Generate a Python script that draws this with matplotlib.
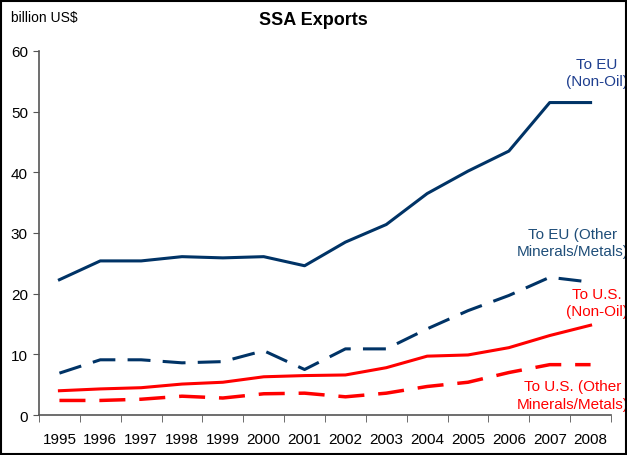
import numpy as np
import matplotlib.pyplot as plt
from matplotlib.patches import Rectangle

plt.rcParams['font.family'] = ['Liberation Sans', 'DejaVu Sans']

# data, billion US$
years = ['1995', '1996', '1997', '1998', '1999', '2000', '2001',
         '2002', '2003', '2004', '2005', '2006', '2007', '2008']
eu_non_oil = [22.3, 25.4, 25.4, 26.1, 25.9, 26.1, 24.6,
              28.5, 31.4, 36.5, 40.2, 43.5, 51.5, 51.5]
eu_minerals = [6.9, 9.1, 9.1, 8.6, 8.8, 10.6, 7.5,
               10.9, 10.9, 14.2, 17.2, 19.7, 22.7, 21.9]
us_non_oil = [4.0, 4.3, 4.5, 5.1, 5.4, 6.3, 6.5,
              6.6, 7.8, 9.7, 9.9, 11.1, 13.1, 14.8]
us_minerals = [2.4, 2.4, 2.6, 3.1, 2.8, 3.5, 3.6,
               3.0, 3.6, 4.7, 5.4, 7.0, 8.3, 8.3]

navy = '#003366'
red = '#ff0000'

fig = plt.figure(figsize=(6.27, 4.56), dpi=100)
ax = fig.add_axes([0.0622, 0.0877, 0.9123, 0.7983])

x = np.arange(len(years))
lw = 2.2
ax.plot(x, eu_non_oil, color=navy, lw=lw)
ax.plot(x, eu_minerals, color=navy, lw=lw, dashes=(7.5, 4))
ax.plot(x, us_non_oil, color=red, lw=lw)
ax.plot(x, us_minerals, color=red, lw=lw + 0.3, dashes=(7.5, 4))

ax.set_xlim(-0.5, len(years) - 0.5)
ax.set_ylim(0, 60)
ax.set_yticks(np.arange(0, 61, 10))
ax.set_xticks(x)
ax.set_xticklabels(years)
ax.set_xticks(np.arange(-0.5, len(years), 1), minor=True)
ax.tick_params(axis='x', which='major', length=0, pad=12, labelsize=11)
ax.tick_params(axis='x', which='minor', length=5, color='#555555')
ax.tick_params(axis='y', length=4, color='#555555', labelsize=11, pad=4)
for s in ['top', 'right']:
    ax.spines[s].set_visible(False)
for s in ['left', 'bottom']:
    ax.spines[s].set_color('#555555')
    ax.spines[s].set_linewidth(1.2)

# series labels
lab_kw = dict(ha='center', va='center', fontsize=11, linespacing=1.3,
              transform=ax.transData, clip_on=False)
ax.text(13.15, 56.5, 'To EU\n(Non-Oil)', color='#1f3f8f', **lab_kw)
ax.text(12.55, 28.4, 'To EU (Other\nMinerals/Metals)', color='#1f4e79', **lab_kw)
ax.text(13.15, 18.5, 'To U.S.\n(Non-Oil)', color=red, **lab_kw)
ax.text(12.55, 3.3, 'To U.S. (Other\nMinerals/Metals)', color=red, **lab_kw)

fig.text(0.5, 0.955, 'SSA Exports', ha='center', va='center',
         fontsize=13, fontweight='bold')
fig.text(0.018, 0.96, 'billion US$', ha='left', va='center', fontsize=10)

# outer frame
fig.patches.append(Rectangle((0.002, 0.002), 0.996, 0.993, transform=fig.transFigure,
                             fill=False, edgecolor='black', lw=1.5))

fig.savefig('out.png', dpi=100)
